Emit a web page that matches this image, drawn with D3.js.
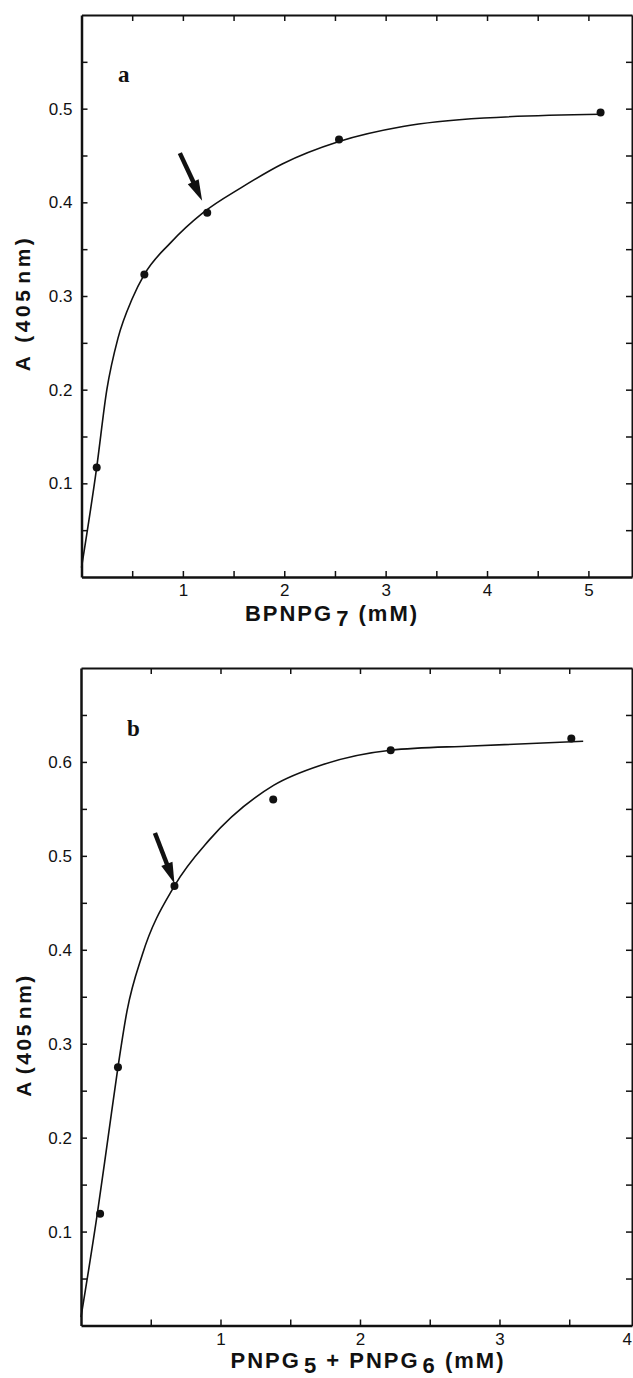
<!DOCTYPE html>
<html>
<head>
<meta charset="utf-8">
<script src="https://cdn.jsdelivr.net/npm/d3@7"></script>
<style>
  body { margin: 0; background: #fff; }
  svg { display: block; }
</style>
</head>
<body>
<div id="chart"></div>
<script>
// ---- panel a : BPNPG7 ----
const aConc = [0.15, 0.62, 1.24, 2.54, 5.12];
const aAbs = [0.117, 0.323, 0.389, 0.467, 0.496];
const aCurveConc = [0, 0.15, 0.25, 0.36, 0.5, 0.62, 0.88, 1.2, 1.58, 1.98, 2.54, 3.17, 3.97, 5.12];
const aCurveAbs = [0.01, 0.117, 0.2, 0.255, 0.297, 0.323, 0.357, 0.389, 0.416, 0.441, 0.465, 0.481, 0.49, 0.494];
const aXTicks = [0.5, 1, 1.5, 2, 2.5, 3, 3.5, 4, 4.5, 5];
const aXLabels = [1, 2, 3, 4, 5];
const aYTicks = [0.05, 0.1, 0.15, 0.2, 0.25, 0.3, 0.35, 0.4, 0.45, 0.5, 0.55];
const aYLabels = [0.1, 0.2, 0.3, 0.4, 0.5];
const aArrow = [[0.97, 0.4525], [1.19, 0.4017]];

// ---- panel b : PNPG5 + PNPG6 ----
const bConc = [0.137, 0.265, 0.67, 1.378, 2.22, 3.515];
const bAbs = [0.119, 0.275, 0.468, 0.56, 0.6125, 0.625];
const bCurveConc = [0, 0.117, 0.194, 0.265, 0.33, 0.44, 0.67, 0.92, 1.38, 1.73, 2.22, 2.8, 3.6];
const bCurveAbs = [0.009, 0.119, 0.2, 0.275, 0.335, 0.395, 0.468, 0.517, 0.575, 0.597, 0.6125, 0.617, 0.622];
const bXTicks = [0.5, 1, 1.5, 2, 2.5, 3, 3.5, 4];
const bXLabels = [1, 2, 3, 4];
const bYTicks = [0.05, 0.1, 0.15, 0.2, 0.25, 0.3, 0.35, 0.4, 0.45, 0.5, 0.55, 0.6, 0.65];
const bYLabels = [0.1, 0.2, 0.3, 0.4, 0.5, 0.6];
const bArrow = [[0.53, 0.5243], [0.67, 0.4706]];

const W = 633, H = 1378;
const INK = "#111";
const SANS = "'Liberation Sans', Arial, Helvetica, sans-serif";
const SERIF = "'Liberation Serif', 'DejaVu Serif', serif";

const svg = d3.select("#chart").append("svg")
  .attr("width", W)
  .attr("height", H)
  .style("background", "#fff");

function drawPanel(p) {
  const x = d3.scaleLinear().domain(p.xDomain).range([p.left, p.right]);
  const y = d3.scaleLinear().domain(p.yDomain).range([p.bottom, p.top]);
  const g = svg.append("g");
  const fmt = d3.format(".1f");

  const styleAxis = (sel, width) => {
    sel.select(".domain").attr("stroke", INK).attr("stroke-width", width);
    sel.selectAll(".tick line").attr("stroke", INK).attr("stroke-width", 1.5);
    sel.selectAll(".tick text")
      .attr("fill", INK)
      .attr("font-family", SANS)
      .attr("font-size", 17);
  };

  // top & right: ticks only
  g.append("g")
    .attr("transform", `translate(0,${p.top})`)
    .call(d3.axisTop(x).tickValues(p.xTicks.filter(v => v < p.xDomain[1])).tickSize(-6).tickSizeOuter(0).tickFormat(""))
    .call(s => styleAxis(s, 2));
  g.append("g")
    .attr("transform", `translate(${p.right},0)`)
    .call(d3.axisRight(y).tickValues(p.yTicks).tickSize(-6).tickSizeOuter(0).tickFormat(""))
    .call(s => styleAxis(s, 2));

  // left axis with labels
  g.append("g")
    .attr("transform", `translate(${p.left},0)`)
    .call(d3.axisLeft(y).tickValues(p.yTicks).tickSize(-6).tickSizeOuter(0).tickPadding(9)
      .tickFormat(d => p.yLabels.includes(d) ? fmt(d) : ""))
    .call(s => styleAxis(s, 2.5));

  // bottom axis with labels
  g.append("g")
    .attr("transform", `translate(0,${p.bottom})`)
    .call(d3.axisBottom(x).tickValues(p.xTicks).tickSize(-6).tickSizeOuter(0).tickPadding(7)
      .tickFormat(d => p.xLabels.includes(d) ? String(d) : ""))
    .call(s => styleAxis(s, 2.5))
    .call(s => {
      // a label past the frame edge is pulled in so it stays on the page
      const out = s.selectAll(".tick").filter(d => d > p.xDomain[1]);
      out.select("line").remove();
      out.attr("transform", `translate(${W - 1},0)`).select("text").attr("text-anchor", "end");
    });

  // fitted curve
  const curve = p.curveConc.map((c, i) => [c, p.curveAbs[i]]);
  g.append("path")
    .datum(curve)
    .attr("fill", "none")
    .attr("stroke", INK)
    .attr("stroke-width", 1.6)
    .attr("d", d3.line().x(d => x(d[0])).y(d => y(d[1])).curve(d3.curveMonotoneX));

  // data points
  g.selectAll("circle.pt")
    .data(p.conc.map((c, i) => [c, p.abs[i]]))
    .join("circle")
    .attr("class", "pt")
    .attr("cx", d => x(d[0]))
    .attr("cy", d => y(d[1]))
    .attr("r", 4)
    .attr("fill", INK);

  // arrow
  const [t0, t1] = p.arrow;
  const x0 = x(t0[0]), y0 = y(t0[1]), x1 = x(t1[0]), y1 = y(t1[1]);
  const len = Math.hypot(x1 - x0, y1 - y0);
  const ux = (x1 - x0) / len, uy = (y1 - y0) / len;
  const headLen = 21, headW = 6;
  const bx = x1 - ux * headLen, by = y1 - uy * headLen;
  g.append("line")
    .attr("x1", x0).attr("y1", y0).attr("x2", bx + ux * 2).attr("y2", by + uy * 2)
    .attr("stroke", INK).attr("stroke-width", 4.5);
  g.append("path")
    .attr("d", `M${x1},${y1}L${bx - uy * headW},${by + ux * headW}L${bx + uy * headW},${by - ux * headW}Z`)
    .attr("fill", INK);

  // panel letter
  g.append("text")
    .attr("x", p.letterPos[0]).attr("y", p.letterPos[1])
    .attr("font-family", SERIF)
    .attr("font-weight", "bold")
    .attr("font-size", 23)
    .attr("fill", INK)
    .text(p.letter);

  // y title
  const yt = g.append("text")
    .attr("transform", `translate(${p.yTitlePos[0]},${p.yTitlePos[1]}) rotate(-90)`)
    .attr("text-anchor", "middle")
    .attr("font-family", SANS)
    .attr("font-weight", "bold")
    .attr("font-size", 21)
    .attr("letter-spacing", p.yTitleSpacing)
    .attr("fill", INK);
  yt.append("tspan").text("A");
  yt.append("tspan").attr("dx", p.yTitleGap).text("(405");
  yt.append("tspan").attr("dx", 3).text("nm)");

  // x title with subscripts
  const xt = g.append("text")
    .attr("x", p.xTitlePos[0]).attr("y", p.xTitlePos[1])
    .attr("text-anchor", "middle")
    .attr("font-family", SANS)
    .attr("font-weight", "bold")
    .attr("font-size", 22)
    .attr("letter-spacing", 2)
    .attr("fill", INK);
  p.xTitle.forEach(part => {
    const ts = xt.append("tspan").text(part.t);
    if (part.sub) ts.attr("dy", 5).attr("dx", 3);
    else if (part.after) ts.attr("dy", -5);
  });
}

drawPanel({
  left: 81.5, right: 632, top: 15, bottom: 577,
  xDomain: [0, 5.43], yDomain: [0, 0.6],
  conc: aConc, abs: aAbs, curveConc: aCurveConc, curveAbs: aCurveAbs,
  xTicks: aXTicks, xLabels: aXLabels, yTicks: aYTicks, yLabels: aYLabels,
  arrow: aArrow,
  letter: "a", letterPos: [118, 82],
  yTitlePos: [30, 303], yTitleGap: 10, yTitleSpacing: 3.5,
  xTitlePos: [332, 621],
  xTitle: [{ t: "BPNPG" }, { t: "7", sub: true }, { t: " (mM)", after: true }]
});

drawPanel({
  left: 81, right: 632, top: 668, bottom: 1325.5,
  xDomain: [0, 3.95], yDomain: [0, 0.7],
  conc: bConc, abs: bAbs, curveConc: bCurveConc, curveAbs: bCurveAbs,
  xTicks: bXTicks, xLabels: bXLabels, yTicks: bYTicks, yLabels: bYLabels,
  arrow: bArrow,
  letter: "b", letterPos: [127, 736],
  yTitlePos: [31, 1035], yTitleGap: 5, yTitleSpacing: 2.5,
  xTitlePos: [368, 1368],
  xTitle: [{ t: "PNPG" }, { t: "5", sub: true }, { t: " + PNPG", after: true }, { t: "6", sub: true }, { t: " (mM)", after: true }]
});
</script>
</body>
</html>
